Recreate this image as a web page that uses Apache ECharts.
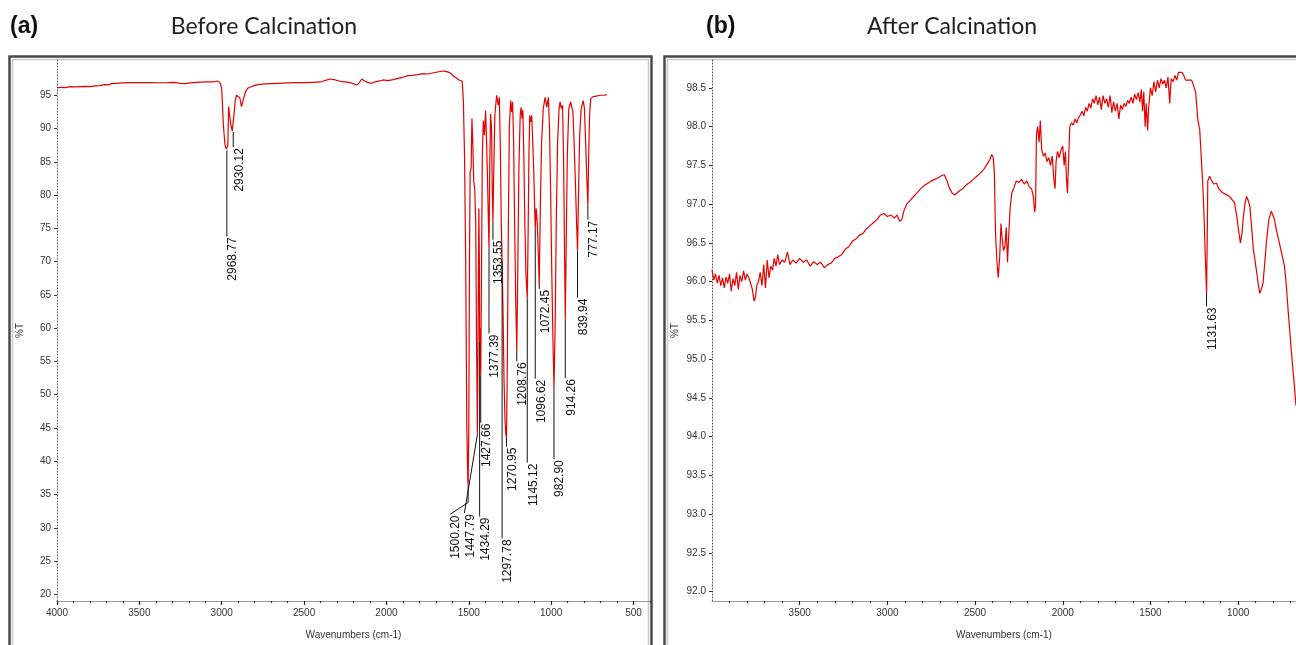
<!DOCTYPE html>
<html>
<head>
<meta charset="utf-8">
<script src="https://cdn.jsdelivr.net/npm/echarts@6/dist/echarts.min.js"></script>
<style>
html,body{margin:0;padding:0;background:#fff;}
#c{width:1296px;height:645px;}
</style>
</head>
<body>
<div id="c"></div>
<script>
// ---------- Panel (a): before calcination ----------
const spectrumA = [
[4000,96.1],[3980,96.2],[3950,96.15],[3920,96.3],[3890,96.25],[3860,96.3],[3830,96.35],[3800,96.3],
[3770,96.4],[3740,96.45],[3710,96.6],[3690,96.55],[3670,96.75],[3640,96.8],[3600,96.85],[3560,96.9],
[3500,96.9],[3440,96.92],[3380,96.88],[3330,96.9],[3290,96.95],[3250,96.8],[3220,96.75],[3190,96.85],
[3150,96.95],[3100,97.0],[3060,97.0],[3040,97.05],[3025,97.15],[3010,96.9],[3000,96.0],[2990,90.5],
[2980,87.5],[2972,86.9],[2968.77,86.7],[2963,87.5],[2958,93.3],[2952,92.0],[2944,90.5],[2936,89.6],
[2930.12,89.5],[2924,92.5],[2918,94.2],[2910,95.0],[2900,94.8],[2890,94.6],[2880,93.3],[2874,93.5],
[2866,94.6],[2855,95.6],[2840,96.1],[2810,96.4],[2780,96.6],[2740,96.7],[2700,96.75],[2650,96.8],
[2600,96.85],[2550,96.9],[2500,96.9],[2450,96.95],[2400,97.0],[2370,97.25],[2340,97.45],[2310,97.3],
[2280,97.1],[2250,97.0],[2220,96.9],[2195,96.7],[2180,96.55],[2165,96.9],[2150,97.45],[2130,97.1],
[2110,96.9],[2090,96.8],[2070,97.0],[2040,97.15],[2020,97.3],[1990,97.2],[1960,97.35],[1930,97.55],
[1900,97.7],[1870,97.95],[1840,98.0],[1810,98.1],[1780,98.25],[1750,98.2],[1720,98.35],[1690,98.5],
[1660,98.65],[1640,98.6],[1620,98.45],[1605,98.2],[1590,97.8],[1575,97.6],[1560,97.3],[1548,97.2],
[1540,97.1],[1533,94.2],[1526,86],[1519,70],[1512,45],[1506,37],[1504,36.5],[1500,45],[1496,70],
[1492,83.5],[1486,84],[1481,91.5],[1476,88],[1470,82],[1464,81],[1458,76],[1453,58],[1447.79,44],
[1443,62],[1439,78],[1436,70],[1434.29,58],[1431,60],[1427.66,53],[1423,68],[1418,86],[1412,91.2],
[1405,89],[1398,92.7],[1392,88],[1386,82],[1381,76],[1377.39,72],[1373,84],[1368,92.2],[1362,90],
[1357,80],[1353.55,76],[1349,83],[1342,92],[1331,95],[1322,93.5],[1315,94.7],[1309,88],[1303,76],
[1297.78,70],[1292,62],[1286,52],[1280,46],[1275,44],[1270.95,43.5],[1266,55],[1260,75],[1254,90],
[1246,94.2],[1240,92.5],[1234,94],[1228,88],[1222,76],[1215,64],[1208.76,56.7],[1203,68],[1196,84],
[1188,92],[1183,93.2],[1177,91.5],[1172,92.8],[1166,86],[1160,76],[1153,68],[1145.12,64.5],[1140,74],
[1135,86],[1130,92],[1124,91],[1118,92],[1112,88],[1106,84],[1100,78],[1096.62,75],[1091,78],
[1085,76],[1079,72],[1072.45,66.5],[1066,78],[1058,88],[1048,93],[1037,94.7],[1027,93.2],[1017,94.7],
[1010,90],[1003,80],[996,68],[989,58],[982.9,51],[976,60],[969,76],[961,88],[952,93],[946,94],
[938,93],[931,93.5],[925,86],[919,72],[914.26,61.3],[909,72],[902,86],[893,93],[882,94],[875,94],
[868,92.5],[861,88],[853,82],[846,76],[839.94,71.7],[834,80],[827,89],[818,93],[805,94.2],[798,93],
[791,88],[784,83],[777.17,78.4],[772,86],[767,92],[760,94.5],[745,94.8],[720,94.9],[700,95.0],
[680,95.0],[662,95.1]
];
// peak annotations: wavenumber at peak, %T at peak, %T at bend, wavenumber at label, %T at label
const peakLabelsA = ['2968.77','2930.12','1500.20','1447.79','1434.29','1427.66','1377.39','1353.55','1297.78','1270.95','1208.76','1145.12','1096.62','1072.45','982.90','914.26','839.94','777.17'];
const peakWnA     = [2968.77,2930.12,1504,1447.79,1434.29,1427.66,1377.39,1353.55,1297.78,1270.95,1208.76,1145.12,1096.62,1072.45,982.9,914.26,839.94,777.17];
const peakTA      = [86.7,89.5,36.5,44,58,53,72,76,70,43.5,56.7,64.5,75,66.5,51,61.3,71.7,78.4];
const bendTA      = [73.8,87.2,33.8,44,31.7,45.8,59.2,73.3,28.4,42.2,55.0,39.8,52.4,65.9,40.3,52.5,64.6,76.3];
const labelWnA    = [2968.77,2930.12,1615,1527,1434.29,1427.66,1377.39,1353.55,1297.78,1270.95,1208.76,1145.12,1096.62,1072.45,982.9,914.26,839.94,777.17];
const labelTA     = [73.8,87.2,32.0,32.2,31.7,45.8,59.2,73.3,28.4,42.2,55.0,39.8,52.4,65.9,40.3,52.5,64.6,76.3];
const xTickA = [4000,3500,3000,2500,2000,1500,1000,500];
const yTickA = [20,25,30,35,40,45,50,55,60,65,70,75,80,85,90,95];

// ---------- Panel (b): after calcination ----------
const spectrumB = [
[4000,96.15],[3990,96.02],[3980,96.1],[3970,95.98],[3960,96.08],[3950,95.95],[3940,96.05],[3930,95.92],
[3920,96.06],[3910,95.98],[3900,96.1],[3890,95.88],[3880,96.04],[3870,95.95],[3860,96.12],[3850,95.9],
[3840,96.08],[3830,96.0],[3820,96.14],[3810,96.02],[3800,96.1],[3790,96.05],[3780,95.98],[3770,95.9],
[3760,95.75],[3752,95.8],[3745,95.95],[3735,96.0],[3725,96.12],[3715,95.95],[3705,96.22],[3695,95.92],
[3685,96.28],[3675,96.05],[3665,96.2],[3655,96.15],[3645,96.3],[3635,96.2],[3625,96.35],[3615,96.22],
[3600,96.28],[3585,96.25],[3570,96.38],[3555,96.22],[3540,96.28],[3520,96.24],[3500,96.3],[3480,96.25],
[3460,96.28],[3440,96.2],[3420,96.26],[3400,96.22],[3380,96.25],[3360,96.18],[3340,96.22],[3320,96.24],
[3300,96.3],[3280,96.32],[3260,96.35],[3240,96.42],[3220,96.45],[3200,96.52],[3180,96.55],[3160,96.6],
[3140,96.62],[3120,96.68],[3100,96.72],[3080,96.76],[3060,96.8],[3040,96.86],[3020,96.88],[3000,96.84],
[2980,96.86],[2960,96.82],[2945,96.86],[2930,96.78],[2918,96.8],[2905,96.92],[2890,97.0],[2870,97.05],
[2850,97.1],[2830,97.15],[2810,97.2],[2790,97.24],[2770,97.27],[2750,97.3],[2730,97.32],[2710,97.34],
[2690,97.37],[2675,97.38],[2660,97.3],[2645,97.2],[2630,97.14],[2615,97.12],[2600,97.15],[2585,97.18],
[2570,97.2],[2550,97.25],[2530,97.28],[2510,97.32],[2490,97.36],[2470,97.4],[2450,97.45],[2430,97.52],
[2415,97.58],[2405,97.64],[2396,97.6],[2390,97.4],[2383,96.6],[2375,96.25],[2368,96.05],[2360,96.3],
[2352,96.75],[2345,96.55],[2338,96.4],[2330,96.45],[2322,96.7],[2315,96.25],[2308,96.6],[2300,96.95],
[2290,97.15],[2280,97.2],[2265,97.3],[2250,97.28],[2235,97.32],[2220,97.26],[2205,97.3],[2190,97.22],
[2178,97.2],[2168,97.1],[2160,96.9],[2155,97.0],[2150,97.9],[2143,98.0],[2135,97.8],[2128,98.08],
[2120,97.7],[2110,97.62],[2100,97.66],[2090,97.55],[2080,97.6],[2070,97.5],[2060,97.62],[2050,97.3],
[2044,97.2],[2038,97.55],[2030,97.68],[2020,97.6],[2010,97.7],[2000,97.75],[1992,97.5],[1985,97.68],
[1978,97.3],[1973,97.14],[1966,97.6],[1960,98.0],[1950,98.05],[1940,98.02],[1930,98.1],[1920,98.05],
[1910,98.12],[1900,98.15],[1890,98.2],[1880,98.14],[1870,98.25],[1860,98.2],[1850,98.3],[1840,98.24],
[1830,98.36],[1820,98.3],[1810,98.4],[1800,98.28],[1790,98.38],[1780,98.22],[1770,98.4],[1760,98.3],
[1750,98.36],[1740,98.25],[1730,98.4],[1720,98.18],[1710,98.32],[1700,98.2],[1690,98.3],[1680,98.1],
[1670,98.28],[1660,98.22],[1650,98.3],[1640,98.26],[1630,98.34],[1620,98.3],[1610,98.38],[1600,98.3],
[1590,98.42],[1580,98.35],[1570,98.44],[1560,98.32],[1552,98.48],[1545,98.2],[1538,98.45],[1530,98.0],
[1524,98.3],[1516,97.95],[1510,98.25],[1500,98.5],[1490,98.4],[1480,98.58],[1470,98.45],[1460,98.6],
[1450,98.5],[1440,98.62],[1430,98.55],[1420,98.6],[1410,98.5],[1400,98.64],[1390,98.3],[1382,98.62],
[1370,98.58],[1360,98.66],[1350,98.6],[1340,98.7],[1330,98.72],[1320,98.7],[1310,98.66],[1300,98.6],
[1290,98.62],[1280,98.6],[1265,98.6],[1250,98.5],[1242,98.44],[1230,98.09],[1219,97.96],[1202,97.27],
[1195,96.89],[1187,96.32],[1180,95.85],[1176,96.6],[1173,97.3],[1163,97.36],[1150,97.3],[1140,97.26],
[1123,97.27],[1110,97.2],[1095,97.16],[1083,97.14],[1065,97.12],[1049,97.1],[1035,97.06],[1021,97.02],
[1008,96.85],[998,96.67],[987,96.5],[978,96.62],[970,96.84],[960,97.02],[952,97.1],[943,97.05],
[933,96.97],[923,96.7],[913,96.41],[904,96.28],[896,96.15],[886,95.98],[877,95.85],[868,95.9],
[858,95.98],[848,96.25],[839,96.5],[825,96.8],[811,96.91],[802,96.86],[793,96.8],[780,96.65],
[765,96.5],[750,96.35],[736,96.2],[725,95.95],[714,95.6],[705,95.35],[697,95.12],[685,94.8],[670,94.4]
];
const peakLabelsB = ['1131.63'];
const peakWnB     = [1180];
const peakTB      = [95.85];
const bendTB      = [95.68];
const labelWnB    = [1180];
const labelTB     = [95.68];
const xTickB = [3500,3000,2500,2000,1500,1000];
const yTickB = [92.0,92.5,93.0,93.5,94.0,94.5,95.0,95.5,96.0,96.5,97.0,97.5,98.0,98.5];

// ---------- build ----------
function minorTicks(from, to, step, majors){
  const out = [];
  for (let v = from; v >= to; v -= step) if (majors.indexOf(v) < 0) out.push(v);
  return out;
}
function leaderRows(wn, pt, bt, lw, lt){
  return wn.map((w,i)=>[w, pt[i], bt[i], lw[i], lt[i]]);
}
function leaderRender(labels){
  return function(params, api){
    const i = params.dataIndex;
    const pk = api.coord([api.value(0), api.value(1)]);
    const bd = api.coord([api.value(0), api.value(2)]);
    const en = api.coord([api.value(3), api.value(4)]);
    return {type:'group', children:[
      {type:'polyline', shape:{points:[pk,bd,en]}, style:{stroke:'#111', lineWidth:1, fill:null}},
      {type:'text', x: en[0], y: en[1]+1, rotation: Math.PI/2,
       style:{text: labels[i], align:'right', verticalAlign:'top',
              font:'12px "Liberation Sans", Arial, sans-serif', fill:'#111'}}
    ]};
  };
}
const axisFont = {fontFamily:'"Liberation Sans", Arial, sans-serif', fontSize:10, color:'#333'};

function xAxes(grid, min, majors){
  return [
    {gridIndex:grid, type:'value', position:'bottom', min:min, max:4000, inverse:true,
     axisLine:{show:true, lineStyle:{color:'#9a9a9a', width:1}},
     axisTick:{show:true, length:4, customValues:majors, lineStyle:{color:'#222', width:1.2}},
     axisLabel:Object.assign({customValues:majors, margin:7, formatter:v=>String(v)}, axisFont),
     splitLine:{show:false},
     name:'Wavenumbers (cm-1)', nameLocation:'middle', nameGap:29,
     nameTextStyle:axisFont},
    {gridIndex:grid, type:'value', position:'bottom', offset:0, min:min, max:4000, inverse:true,
     axisLine:{show:false},
     axisTick:{show:true, length:2, customValues:minorTicks(3900, min, 100, majors), lineStyle:{color:'#333', width:1.2}},
     axisLabel:{show:false}, splitLine:{show:false}}
  ];
}
function yAxis(grid, min, max, ticks, dec){
  return {gridIndex:grid, type:'value', min:min, max:max,
    axisLine:{show:true, lineStyle:{color:'#555', width:1, type:[1,2]}},
    axisTick:{show:true, length:3, customValues:ticks, lineStyle:{color:'#333'}},
    axisLabel:Object.assign({customValues:ticks, margin:6,
       formatter:v=>v.toFixed(dec)}, axisFont),
    splitLine:{show:false},
    name:'%T', nameLocation:'middle', nameGap:32, nameRotate:90, nameTextStyle:axisFont};
}

const chart = echarts.init(document.getElementById('c'));
chart.setOption({
  animation:false,
  backgroundColor:'#fff',
  grid:[
    {left:57, top:60, width:593, height:541},
    {left:712, top:60, width:588, height:541}
  ],
  xAxis:[].concat(xAxes(0, 400, xTickA), xAxes(1, 670, xTickB)),
  yAxis:[yAxis(0, 19, 100.3, yTickA, 0), yAxis(1, 91.88, 98.86, yTickB, 1)],
  graphic:[
    {type:'rect', shape:{x:9.5, y:56.5, width:642, height:640}, style:{fill:null, stroke:'#4a4a4a', lineWidth:2.5}, silent:true, z:-1},
    {type:'rect', shape:{x:12.5, y:59.5, width:636, height:640}, style:{fill:null, stroke:'#c9c9c9', lineWidth:1.5}, silent:true, z:-1},
    {type:'rect', shape:{x:664.5, y:56.5, width:700, height:640}, style:{fill:null, stroke:'#4a4a4a', lineWidth:2.5}, silent:true, z:-1},
    {type:'rect', shape:{x:667.5, y:59.5, width:700, height:640}, style:{fill:null, stroke:'#c9c9c9', lineWidth:1.5}, silent:true, z:-1},
    {type:'text', x:10, y:27, style:{text:'(a)', font:'bold 23px "Liberation Sans", Arial, sans-serif', fill:'#111', verticalAlign:'middle'}},
    {type:'text', x:264, y:27, style:{text:'Before Calcination', font:'23px Lato, "Open Sans", sans-serif', fill:'#222', align:'center', verticalAlign:'middle'}},
    {type:'text', x:706, y:27, style:{text:'(b)', font:'bold 23px "Liberation Sans", Arial, sans-serif', fill:'#111', verticalAlign:'middle'}},
    {type:'text', x:952, y:27, style:{text:'After Calcination', font:'23px Lato, "Open Sans", sans-serif', fill:'#222', align:'center', verticalAlign:'middle'}}
  ],
  series:[
    {type:'line', xAxisIndex:0, yAxisIndex:0, data:spectrumA, showSymbol:false, z:2,
     lineStyle:{color:'#e60000', width:1.2}},
    {type:'custom', xAxisIndex:0, yAxisIndex:0, z:3,
     data:leaderRows(peakWnA, peakTA, bendTA, labelWnA, labelTA),
     encode:{x:[0,3], y:[1,2,4]}, renderItem:leaderRender(peakLabelsA)},
    {type:'line', xAxisIndex:2, yAxisIndex:1, data:spectrumB, showSymbol:false, z:2,
     lineStyle:{color:'#e60000', width:1.2}},
    {type:'custom', xAxisIndex:2, yAxisIndex:1, z:3,
     data:leaderRows(peakWnB, peakTB, bendTB, labelWnB, labelTB),
     encode:{x:[0,3], y:[1,2,4]}, renderItem:leaderRender(peakLabelsB)}
  ]
});
</script>
</body>
</html>
